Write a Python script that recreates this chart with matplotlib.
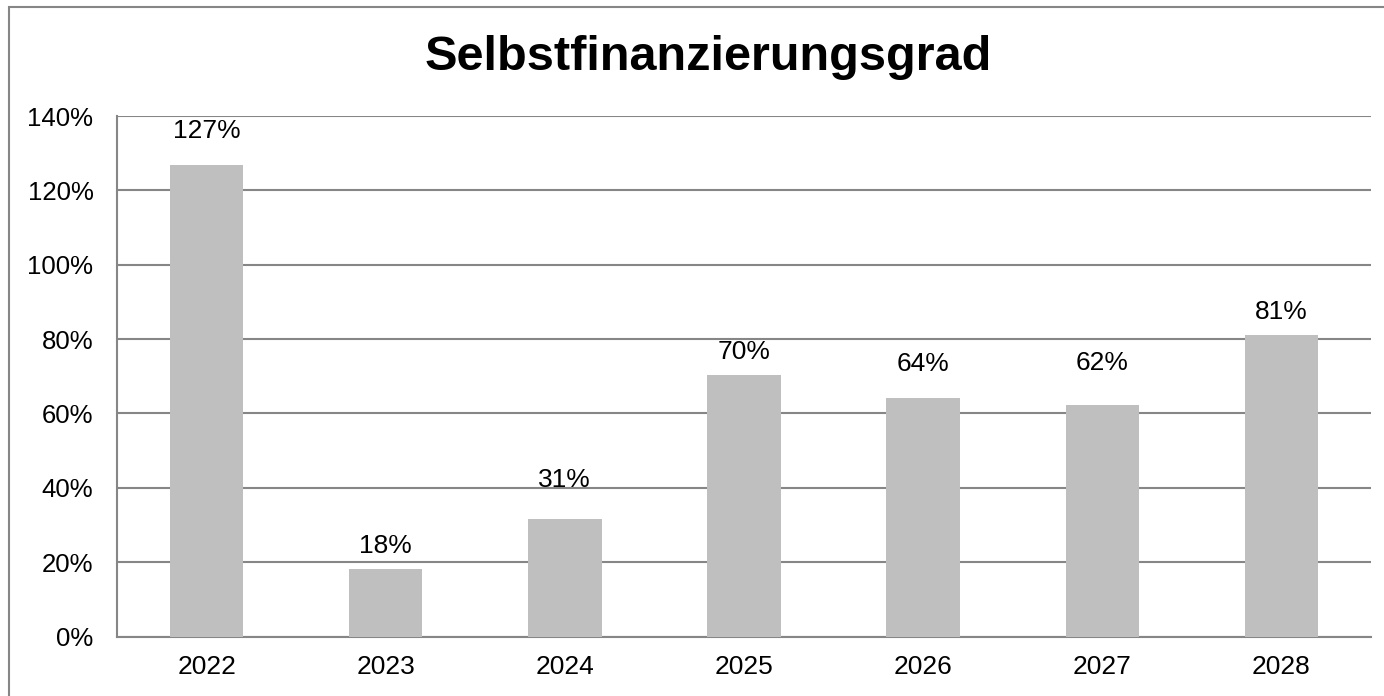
import matplotlib.pyplot as plt
from matplotlib.patches import Rectangle
from matplotlib.ticker import FuncFormatter

plt.rcParams['font.family'] = ['Liberation Sans', 'DejaVu Sans']

years = ["2022", "2023", "2024", "2025", "2026", "2027", "2028"]
values = [126.9, 18.2, 31.6, 70.4, 64.2, 62.4, 81.0]
labels = ["127%", "18%", "31%", "70%", "64%", "62%", "81%"]
yticks = [0, 20, 40, 60, 80, 100, 120, 140]

# baseline height of each data label (they were placed by hand in the original)
label_y = [134.0, 22.5, 40.2, 74.6, 71.3, 71.8, 85.4]

grey_line = "#868686"
bar_color = "#BFBFBF"

fig = plt.figure(figsize=(13.84, 6.96), dpi=100)

# outer chart border (runs off the right and bottom edge like the original)
fig.patches.append(Rectangle((9 / 1384, -0.05), 1.1, 1 - 7 / 696 + 0.05,
                             transform=fig.transFigure, fill=False,
                             edgecolor=grey_line, linewidth=1.5))

ax = fig.add_axes([117 / 1384, 1 - 636.5 / 696, (1371 - 117) / 1384, (636.5 - 116) / 696])

x = range(len(years))
ax.bar(x, values, width=0.41, color=bar_color, zorder=3)

ax.set_xlim(-0.5, len(years) - 0.5)
ax.set_ylim(0, 140)
ax.set_yticks(yticks)
ax.yaxis.set_major_formatter(FuncFormatter(lambda v, p: f"{int(v)}%"))
ax.set_xticks(list(x))
ax.set_xticklabels(years)
ax.grid(axis="y", color=grey_line, linewidth=1.5, zorder=0)
ax.tick_params(axis="y", length=0, pad=17, labelsize=18.5)
ax.tick_params(axis="x", length=0, pad=13, labelsize=19)

for side in ["top", "right"]:
    ax.spines[side].set_visible(False)
for side in ["left", "bottom"]:
    ax.spines[side].set_color(grey_line)
    ax.spines[side].set_linewidth(1.5)

for i, (ly, lab) in enumerate(zip(label_y, labels)):
    ax.text(i, ly, lab, ha="center", va="baseline", fontsize=19, zorder=4)

fig.text(708 / 1384, 1 - 70 / 696, "Selbstfinanzierungsgrad", ha="center",
         va="baseline", fontsize=35, fontweight="bold")

fig.savefig("out.png", dpi=100)
